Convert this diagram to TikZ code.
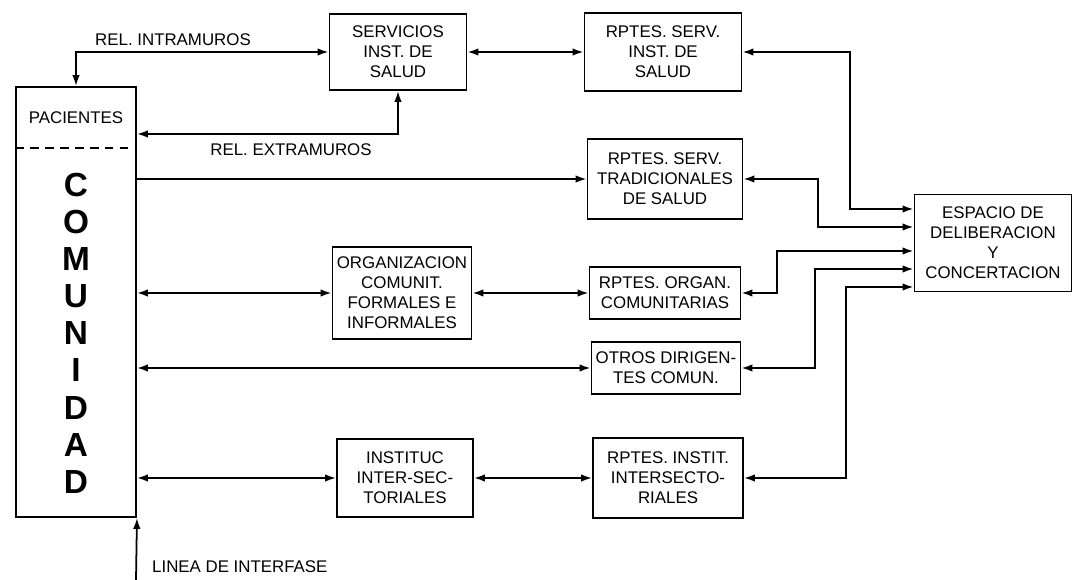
\documentclass[tikz,border=0pt]{standalone}
\usepackage{fontspec}
\setmainfont{Liberation Sans}
\usetikzlibrary{arrows.meta, positioning}

\begin{document}
\begin{tikzpicture}[
        x=0.02cm, y=-0.02cm,
        box/.style={draw, line width=1.1pt, align=center, inner sep=2pt, font=\fontsize{9.6}{11.4}\selectfont},
        arrow/.style={-{Latex[length=2.2mm, width=1.5mm]}, line width=1pt},
        both/.style={{Latex[length=2.2mm, width=1.5mm]}-{Latex[length=2.2mm, width=1.5mm]}, line width=1pt},
        lbl/.style={font=\fontsize{9.6}{11.4}\selectfont},
        big/.style={font=\fontsize{19}{19}\selectfont\bfseries}
    ]
        \useasboundingbox (0,0) rectangle (1076,580);

        % Community column
        \node[box, minimum width=2.4cm, minimum height=8.6cm] (com) at (76,302) {};
        \draw[dash pattern=on 5pt off 3.5pt, line width=1pt] (com.west |- 0,148) -- (com.east |- 0,148);
        \node[lbl] (pac) at (76,118) {PACIENTES};
        \foreach \l [count=\i from 0] in {C,O,M,U,N,I,D,A,D}
            \node[big] (c\i) at (76,185+37.1*\i) {\l};

        % Middle column
        \node[box, minimum width=2.74cm, minimum height=1.52cm] (serv) at (398,52) {SERVICIOS\\INST. DE\\SALUD};
        \node[box, minimum width=2.78cm, minimum height=1.84cm] (org) at (402,293) {ORGANIZACION\\COMUNIT.\\FORMALES E\\INFORMALES};
        \node[box, minimum width=2.72cm, minimum height=1.56cm] (inst) at (405,478) {INSTITUC\\INTER-SEC-\\TORIALES};

        % Representatives
        \node[box, minimum width=3.14cm, minimum height=1.56cm] (rsi) at (663,52) {RPTES. SERV.\\INST. DE\\SALUD};
        \node[box, minimum width=3.1cm, minimum height=1.6cm] (rtrad) at (665,179) {RPTES. SERV.\\TRADICIONALES\\DE SALUD};
        \node[box, minimum width=3.02cm, minimum height=1.04cm] (rorg) at (665,293) {RPTES. ORGAN.\\COMUNITARIAS};
        \node[box, minimum width=2.98cm, minimum height=1.04cm] (otros) at (666,368) {OTROS DIRIGEN-\\TES COMUN.};
        \node[box, minimum width=3.0cm, minimum height=1.6cm] (rinst) at (668,478) {RPTES. INSTIT.\\INTERSECTO-\\RIALES};

        % Deliberation space
        \node[box, minimum width=3.14cm, minimum height=1.94cm] (esp) at (993,243) {ESPACIO DE\\DELIBERACION\\Y\\CONCERTACION};

        % Labels
        \node[lbl] (intra) at (173,40) {REL. INTRAMUROS};
        \node[lbl] (extra) at (291,150) {REL. EXTRAMUROS};
        \node[lbl, anchor=west] (inter) at (146,567) {LINEA DE INTERFASE};

        % Arrows
        \draw[both] (com.north) |- (serv.west);
        \draw[both] (serv.south) |- (com.east |- 0,134);
        \draw[both] (serv) -- (rsi);
        \draw[arrow] (com.east |- rtrad) -- (rtrad);
        \foreach \n in {org, otros, inst} {
            \draw[both] (com.east |- \n) -- (\n);
        }
        \foreach \a/\b in {org/rorg, inst/rinst} {
            \draw[both] (\a) -- (\b);
        }
        \foreach \n/\x/\y in {rsi/850/209, rtrad/818/227, rorg/777/251, otros/815/269, rinst/846/287} {
            \draw[both] (\n.east) -| (\x,\y) -- (esp.west |- 0,\y);
        }
        \coordinate (base) at (136,580);
        \draw[arrow] (base) -- (com.south east);

    \end{tikzpicture}
\end{document}
